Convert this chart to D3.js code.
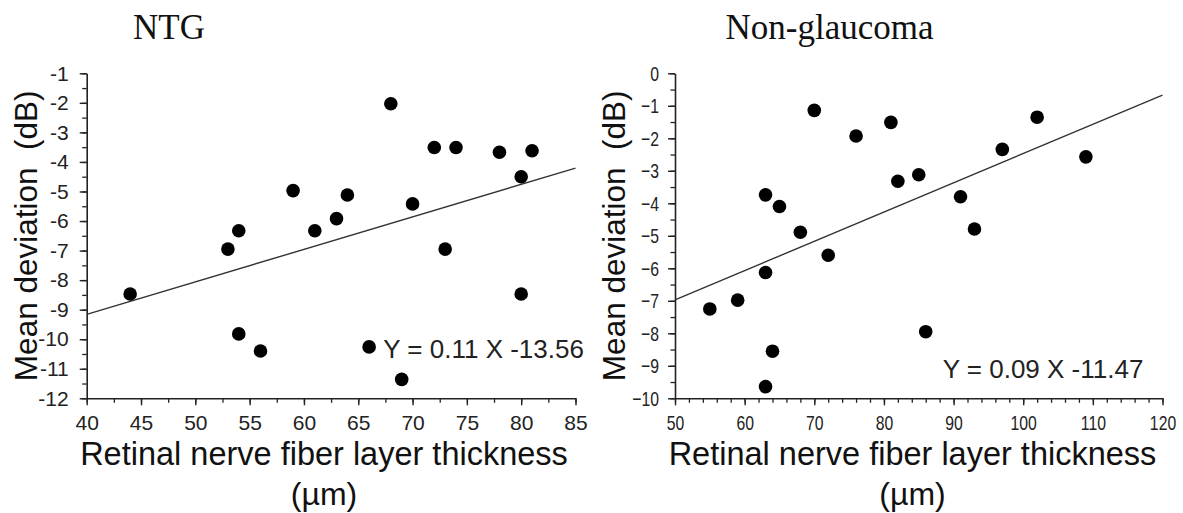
<!DOCTYPE html>
<html><head><meta charset="utf-8">
<script src="https://cdn.jsdelivr.net/npm/d3@7"></script>
<style>
body{margin:0;background:#fff;}
svg{display:block;}
</style></head>
<body>
<svg id="chart" width="1183" height="513"></svg>
<script>
// ---- Data ----
const ntgRNFL = [44, 53, 54, 54, 56, 59, 61, 63, 64, 66, 68, 69, 70, 72, 73, 74, 78, 80, 80, 81];
const ntgMD   = [-8.47, -6.95, -6.33, -9.82, -10.4, -4.97, -6.33, -5.92, -5.12, -10.26, -2.03, -11.36, -5.42, -3.51, -6.95, -3.51, -3.67, -4.5, -8.47, -3.62];
const ngRNFL  = [55, 59, 63, 63, 63, 64, 65, 68, 70, 72, 76, 81, 82, 85, 86, 91, 93, 97, 102, 109];
const ngMD    = [-7.25, -6.98, -3.74, -6.13, -9.64, -8.55, -4.1, -4.89, -1.14, -5.6, -1.93, -1.51, -3.32, -3.12, -7.95, -3.8, -4.79, -2.34, -1.35, -2.57];
const ntgFit  = [0.11, -13.56];   // slope, intercept
const ngFit   = [0.09, -11.47];
const ntgXTicks = [40, 45, 50, 55, 60, 65, 70, 75, 80, 85];
const ntgYTicks = [-1, -2, -3, -4, -5, -6, -7, -8, -9, -10, -11, -12];
const ngXTicks  = [50, 60, 70, 80, 90, 100, 110, 120];
const ngYTicks  = [0, -1, -2, -3, -4, -5, -6, -7, -8, -9, -10];
const titles = ["NTG", "Non-glaucoma"];
const xLabel = ["Retinal nerve fiber layer thickness", "(\u00b5m)"];
const yLabel = "Mean deviation  (dB)";
const eqText = ["Y = 0.11 X -13.56", "Y = 0.09 X -11.47"];

const svg = d3.select("#chart");
const SANS = "Liberation Sans, Arial, sans-serif";

function panel(cfg){
  const g = svg.append("g");
  const x = d3.scaleLinear().domain(cfg.xDom).range(cfg.xRange);
  const y = d3.scaleLinear().domain(cfg.yDom).range(cfg.yRange);

  // minor ticks
  const xMinor = d3.range(cfg.xDom[0], cfg.xDom[1] + 1e-9, cfg.xMinorStep);
  const yMinor = d3.range(cfg.yDom[0], cfg.yDom[1] + 1e-9, 0.5);
  g.append("g").attr("transform", `translate(0,${cfg.yRange[0]})`)
    .call(d3.axisBottom(x).tickValues(xMinor).tickSize(4.5).tickFormat(""))
    .call(a => a.select(".domain").remove())
    .selectAll("line").attr("stroke", "#222").attr("stroke-width", 1.3);
  g.append("g").attr("transform", `translate(${cfg.xRange[0]},0)`)
    .call(d3.axisLeft(y).tickValues(yMinor).tickSize(4.5).tickFormat(""))
    .call(a => a.select(".domain").remove())
    .selectAll("line").attr("stroke", "#222").attr("stroke-width", 1.3);

  // major axes
  const xa = g.append("g").attr("transform", `translate(0,${cfg.yRange[0]})`)
    .call(d3.axisBottom(x).tickValues(cfg.xTicks).tickSize(7).tickSizeOuter(0).tickPadding(10).tickFormat(d => String(d)));
  const ya = g.append("g").attr("transform", `translate(${cfg.xRange[0]},0)`)
    .call(d3.axisLeft(y).tickValues(cfg.yTicks).tickSize(7).tickSizeOuter(0).tickPadding(cfg.yPad).tickFormat(d => (d < 0 ? cfg.minus + Math.abs(d) : String(d))));
  [xa, ya].forEach(a => {
    a.select(".domain").attr("stroke", "#222").attr("stroke-width", 1.6);
    a.selectAll(".tick line").attr("stroke", "#222").attr("stroke-width", 1.4);
    a.selectAll("text").attr("fill", "#222").style("font-family", SANS).style("font-size", cfg.tickSize + "px");
  });
  if (cfg.sx !== 1) {
    xa.selectAll("text").attr("transform", `scale(${cfg.sx},1)`);
    ya.selectAll("text").attr("x", -(7 + cfg.yPad) / cfg.sx).attr("transform", `scale(${cfg.sx},1)`);
  }

  // regression line
  const fx = cfg.xDom;
  g.append("line")
    .attr("x1", x(fx[0])).attr("y1", y(cfg.fit[0] * fx[0] + cfg.fit[1]))
    .attr("x2", x(fx[1])).attr("y2", y(cfg.fit[0] * fx[1] + cfg.fit[1]))
    .attr("stroke", "#333").attr("stroke-width", 1.4);

  // points
  g.selectAll("circle.pt").data(cfg.xs).enter().append("circle")
    .attr("class", "pt")
    .attr("cx", d => x(d)).attr("cy", (d, i) => y(cfg.ys[i]))
    .attr("r", 6.8).attr("fill", "#000");

  // equation
  g.append("text").attr("x", x(cfg.eqPos[0])).attr("y", y(cfg.eqPos[1]))
    .text(cfg.eq).attr("fill", "#222")
    .style("font-family", SANS).style("font-size", "26px");

  // title
  g.append("text").attr("x", cfg.titleX).attr("y", 39).attr("text-anchor", "middle")
    .text(cfg.title).attr("fill", "#111")
    .style("font-family", "Liberation Serif, Times New Roman, serif").style("font-size", "35px");

  // x label
  g.append("text").attr("x", cfg.xLabelX).attr("y", 465).attr("text-anchor", "middle")
    .text(xLabel[0]).attr("fill", "#111")
    .style("font-family", SANS).style("font-size", "32.5px");
  g.append("text").attr("x", cfg.xLabelX).attr("y", 505).attr("text-anchor", "middle")
    .text(xLabel[1]).attr("fill", "#111")
    .style("font-family", SANS).style("font-size", "32px");

  // y label
  const cy = (cfg.yRange[0] + cfg.yRange[1]) / 2;
  g.append("text").attr("transform", `translate(${cfg.yLabelX},${cy}) rotate(-90)`)
    .attr("text-anchor", "middle").text(yLabel).attr("fill", "#111")
    .style("font-family", SANS).style("font-size", "31.5px")
    .style("white-space", "pre");
}

panel({
  xDom: [40, 85], yDom: [-12, -1], xRange: [86.7, 575.5], yRange: [398.3, 73.3],
  xTicks: ntgXTicks, yTicks: ntgYTicks, xMinorStep: 2.5, minus: "-", yPad: 11, sx: 1,
  tickSize: 21,
  xs: ntgRNFL, ys: ntgMD, fit: ntgFit, eq: eqText[0], eqPos: [67.3, -10.62],
  title: titles[0], titleX: 169, xLabelX: 324, yLabelX: 37
});
panel({
  xDom: [50, 120], yDom: [-10, 0], xRange: [675, 1162.5], yRange: [398.3, 73.3],
  xTicks: ngXTicks, yTicks: ngYTicks, xMinorStep: 2, minus: "\u2212", yPad: 9, sx: 0.75,
  tickSize: 21,
  xs: ngRNFL, ys: ngMD, fit: ngFit, eq: eqText[1], eqPos: [88.44, -9.375],
  title: titles[1], titleX: 829.5, xLabelX: 912.5, yLabelX: 625
});
</script>
</body></html>
